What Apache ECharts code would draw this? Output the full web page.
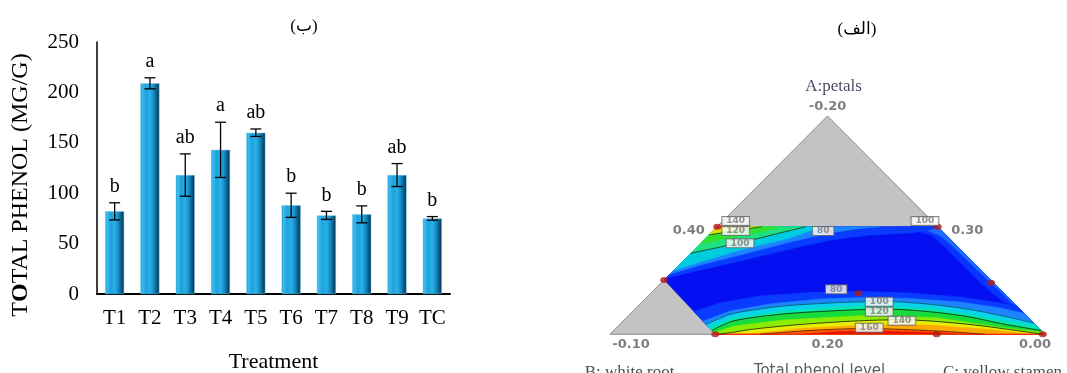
<!DOCTYPE html>
<html><head><meta charset="utf-8">
<script src="https://cdn.jsdelivr.net/npm/echarts@6/dist/echarts.min.js"></script>
<style>html,body{margin:0;padding:0;background:#fff}#c{width:1067px;height:373px}</style>
</head><body><div id="c"></div>
<script>
// ---------- Left panel: bar chart ----------
const categories = ['T1','T2','T3','T4','T5','T6','T7','T8','T9','TC'];
const phenolMeans = [82, 209, 118, 143, 160, 88, 78, 79, 118, 75];
const phenolErrors = [8.5, 5.5, 21, 27.4, 3.7, 12, 4, 8.4, 11.4, 1.8];
const groupLetters = ['b','a','ab','a','ab','b','b','b','ab','b'];

// ---------- Right panel: mixture contour plot (plot frame 0..100 x 0..100) ----------
const ternaryTriangle = [[0,0],[100,0],[50,100]];
const feasibleRegion = [[24.65,49.3],[75.35,49.3],[100,0],[24.2,0],[12.45,24.9]];
const regionTopLeft = [24.65,49.3];
const regionTopRight = [75.35,49.3];
const regionBottom = [[100,0],[24.2,0]];

const bowlLevels = [85, 92, 100, 110, 120, 130, 140, 150, 160, 170];
const bowlContours = [
  [[19.25,10.5],[25.29,14.34],[34.48,17.54],[45.98,19.15],[57.47,19.61],[68.97,18.92],[80.46,17.09],[89.66,14.34],[93.5,13.0]],
  [[21.37,6.0],[27.59,10.67],[36.78,13.88],[48.28,16.17],[58.85,16.86],[68.97,16.40],[80.46,14.80],[89.66,12.05],[95.25,9.5]],
  [[22.08,4.5],[24.37,6.55],[28.28,9.53],[34.48,11.59],[39.77,12.96],[50.57,14.34],[58.85,14.93],[66.67,14.80],[75.17,13.42],[82.76,11.36],[90.34,8.38],[97.41,5.18]],
  [[22.83,2.9],[28.28,7.47],[39.77,10.67],[58.85,13.19],[75.17,11.59],[90.34,6.32],[98.2,3.6]],
  [[23.40,1.7],[28.28,6.09],[39.77,9.30],[50.57,10.67],[58.85,11.36],[66.67,11.36],[75.17,9.99],[82.76,7.92],[90.34,4.72],[99.13,1.74]],
  [[23.82,0.8],[28.74,3.8],[39.77,6.5],[58.85,8.6],[75.17,7.6],[90.34,3.0],[99.6,0.8]],
  [[24.83,0],[28.74,1.05],[32.18,2.20],[43.68,4.49],[58.85,6.32],[69.66,6.55],[82.76,4.49],[94.25,1.51],[99.54,0]],
  [[31.03,0],[43.68,2.66],[58.85,4.26],[73.56,4.26],[87.36,2.20],[96.55,0]],
  [[34.48,0],[45.98,1.74],[58.85,2.66],[75.17,1.51],[86.21,0]],
  [[43.68,0],[52.87,1.28],[62.07,1.51],[73.56,0.82],[80.46,0]]
];

const cornerLevels = [85, 92, 95, 100, 110, 120, 130, 140, 150];
const cornerContours = [
  [[12.9,25.79],[20.69,29.45],[29.89,33.58],[41.38,39.07],[50.57,43.20],[59.77,45.49],[68.97,46.41],[73.56,47.78],[75.35,49.3]],
  [[13.81,27.62],[20.69,31.74],[29.89,36.33],[41.38,42.28],[50.57,46.41],[57.47,48.47],[62.07,49.3]],
  [[14.72,29.45],[20.69,33.12],[29.89,38.62],[41.38,44.11],[48.74,49.3]],
  [[18.56,37.11],[25.68,40.13],[29.89,42.0],[34.48,44.11],[40.92,47.32],[45.06,49.3]],
  [[20.7,41.4],[27.59,44.11],[34.48,46.86],[39.54,49.3]],
  [[22.75,45.49],[27.59,47.09],[32.18,48.47],[34.94,49.3]],
  [[23.4,46.8],[26.5,48.6],[28.5,49.3]],
  [[23.95,47.9],[25.8,49.3]],
  [[24.35,48.7],[24.95,49.3]]
];

const edgeLevels = [85, 92];
const edgeContours = [
  [[66.67,49.3],[74.0,45.5],[77.0,40.0],[80.5,33.0],[84.0,26.0],[87.5,19.5],[90.5,15.0],[93.5,13.0]],
  [[70.8,49.3],[76.0,45.0],[79.0,40.0],[82.6,33.0],[86.0,26.5],[89.5,20.0],[92.0,15.0],[95.25,9.5]]
];

const designPoints = [[24.65,49.3],[75.35,49.3],[12.45,24.9],[50.2,47.3],[57.1,18.8],[87.6,23.6],[24.2,0],[75.1,0],[99.5,0]];
const contourLabelText = ['140','120','100','80','100','80','100','120','140','160'];
const contourLabelPos = [[28.9,51.9],[28.9,47.3],[29.9,41.7],[49.0,47.3],[72.4,51.9],[52.0,20.6],[61.9,14.9],[61.9,10.35],[67.1,6.2],[59.6,3.0]];
const ternaryTickText = ['-0.20','0.40','0.30','-0.10','0.20','0.00'];
const ternaryTickPos = [[50,100],[24.65,49.3],[75.35,49.3],[0,0],[50,0],[100,0]];
const ternaryTitleText = ['A:petals','B: white root','Total phenol level','C: yellow stamen'];
const ternaryTitlePos = [[50,100],[0,0],[50,0],[100,0]];

// ---------- styling ----------
const levelColors = {85:'#0a3cff',92:'#1d84ff',100:'#08d2ec',110:'#04e6aa',120:'#18dc3a',130:'#8aec00',140:'#e6ee00',150:'#ffaa00',160:'#ff5c00',170:'#e81400'};
const edgeColors = {85:'#0a34ff',92:'#1a6cff'};
const cornerColors = {85:'#0a3cff',92:'#1d84ff',95:'#00cce0',100:'#20e080',110:'#30e030',120:'#c4f000',130:'#ffd400',140:'#ff7a00',150:'#e82000'};

const layers = [];
layers.push({pts: ternaryTriangle, fill:'#c3c3c3', stroke:'#8c8c8c', lw:1});
layers.push({pts: feasibleRegion, fill:'#0410f2', stroke:'#3a3a8a', lw:0.6});
edgeContours.forEach((c,i)=>layers.push({pts: c.concat([regionTopRight]), fill: edgeColors[edgeLevels[i]]}));
cornerContours.forEach((c,i)=>layers.push({pts: c.concat([regionTopLeft]), fill: cornerColors[cornerLevels[i]]}));
bowlContours.forEach((c,i)=>layers.push({pts: c.concat(regionBottom), fill: levelColors[bowlLevels[i]]}));

const lines = [];
[[2,'#0b5566'],[4,'#0f2a1a'],[6,'#1a2a10'],[8,'#5a2400']].forEach(([k,col])=>lines.push({pts: bowlContours[k], color: col}));
[[3,'#123a2a'],[5,'#1a2a10']].forEach(([k,col])=>lines.push({pts: cornerContours[k], color: col}));

const barGradient = new echarts.graphic.LinearGradient(0,0,1,0,[
  {offset:0,color:'#0f86c4'},{offset:0.08,color:'#3cbcee'},{offset:0.3,color:'#1ca2dc'},
  {offset:0.5,color:'#2cb0e8'},{offset:0.68,color:'#1790ca'},{offset:0.85,color:'#0b5d88'},{offset:1,color:'#052c44'}]);

const serif = '"Liberation Serif", "Times New Roman", serif';
const tickStyles = [
  {position:'top', distance:2, offset:[0,0]},
  {position:'left', distance:12, offset:[0,4]},
  {position:'right', distance:13, offset:[0,4]},
  {position:'bottom', distance:3, offset:[21,0]},
  {position:'bottom', distance:3, offset:[0,0]},
  {position:'bottom', distance:3, offset:[-10,0]}
];
const titleStyles = [
  {position:'top', distance:20, offset:[6,0], fontFamily:serif, fontSize:17, color:'#1a1a3a'},
  {position:'bottom', distance:29, offset:[19.5,0], fontFamily:serif, fontSize:17, color:'#222'},
  {position:'bottom', distance:29, offset:[-8,0], fontFamily:'DejaVu Sans', fontSize:15, color:'#333'},
  {position:'bottom', distance:29, offset:[-42.5,0], fontFamily:serif, fontSize:17, color:'#222'}
];

const textData = [];
ternaryTickText.forEach((t,i)=>textData.push({name:t, value:ternaryTickPos[i],
  label:Object.assign({fontFamily:'DejaVu Sans', fontWeight:'bold', fontSize:13, color:'#5c5c5c'}, tickStyles[i])}));
ternaryTitleText.forEach((t,i)=>textData.push({name:t, value:ternaryTitlePos[i], label:titleStyles[i]}));

const chart = echarts.init(document.getElementById('c'));
chart.setOption({
  animation:false,
  backgroundColor:'#fff',
  title:[
    {text:'(ب)', left:299, top:13, textAlign:'center', textStyle:{fontFamily:serif+', "DejaVu Sans"', fontSize:17, fontWeight:'normal', color:'#000'}},
    {text:'(الف)', left:852, top:16, textAlign:'center', textStyle:{fontFamily:serif+', "DejaVu Sans"', fontSize:17, fontWeight:'normal', color:'#000'}}
  ],
  grid:[
    {left:97, right:617, top:42, bottom:79, outerBoundsMode:'none', containLabel:false},
    {left:610, top:116, width:435, height:218.3, outerBoundsMode:'none', containLabel:false}
  ],
  xAxis:[
    {type:'category', gridIndex:0, data:categories,
     axisLine:{lineStyle:{color:'#000', width:2}}, axisTick:{show:false},
     axisLabel:{fontFamily:serif, fontSize:21, color:'#000', margin:14},
     name:'Treatment', nameLocation:'middle', nameGap:57,
     nameTextStyle:{fontFamily:serif, fontSize:22, color:'#000'}},
    {type:'value', gridIndex:1, min:0, max:100, show:false}
  ],
  yAxis:[
    {type:'value', gridIndex:0, min:0, max:250, interval:50,
     axisLine:{show:true, lineStyle:{color:'#000', width:1.5}}, axisTick:{show:false}, splitLine:{show:false},
     axisLabel:{fontFamily:serif, fontSize:21, color:'#000', margin:18},
     name:'T{b|O}TAL PHENOL (MG/G)', nameLocation:'middle', nameGap:64,
     nameTextStyle:{fontFamily:serif, fontSize:24, color:'#000', padding:[0,34,0,0],
       rich:{b:{fontFamily:serif, fontSize:24, fontWeight:'bold', color:'#000'}}}},
    {type:'value', gridIndex:1, min:0, max:100, show:false}
  ],
  series:[
    {type:'bar', xAxisIndex:0, yAxisIndex:0, data:phenolMeans, barWidth:19,
     itemStyle:{color:barGradient, borderColor:'#6ccbf0', borderWidth:0.5}},
    {type:'custom', xAxisIndex:0, yAxisIndex:0, z:5,
     data: categories.map((c,i)=>[i, phenolMeans[i], phenolErrors[i]]),
     encode:{x:0, y:1},
     renderItem:(params, api)=>{
       const i = api.value(0), m = api.value(1), e = api.value(2);
       const top = api.coord([i, m+e]), bot = api.coord([i, m-e]);
       const w = 5.5, st = {stroke:'#000', lineWidth:1.3};
       return {type:'group', children:[
         {type:'line', shape:{x1:top[0],y1:top[1],x2:bot[0],y2:bot[1]}, style:st},
         {type:'line', shape:{x1:top[0]-w,y1:top[1],x2:top[0]+w,y2:top[1]}, style:st},
         {type:'line', shape:{x1:bot[0]-w,y1:bot[1],x2:bot[0]+w,y2:bot[1]}, style:st},
         {type:'text', x:top[0], y:top[1]-6, style:{text:groupLetters[params.dataIndex], fill:'#000',
           font:'20px "Liberation Serif"', align:'center', verticalAlign:'bottom'}}
       ]};
     }},
    {type:'custom', xAxisIndex:1, yAxisIndex:1, z:2, clip:false,
     data: layers.map(()=>[50,50]),
     renderItem:(params, api)=>{
       const L = layers[params.dataIndex];
       return {type:'polygon', z2:params.dataIndex,
         shape:{points:L.pts.map(p=>api.coord(p))},
         style:{fill:L.fill, stroke:L.stroke||L.fill, lineWidth:L.lw||0.6}};
     }},
    {type:'custom', xAxisIndex:1, yAxisIndex:1, z:3, clip:false,
     data: lines.map(()=>[50,50]),
     renderItem:(params, api)=>{
       const L = lines[params.dataIndex];
       return {type:'polyline', shape:{points:L.pts.map(p=>api.coord(p)), smooth:0.3},
         style:{stroke:L.color, lineWidth:1, fill:null, opacity:0.85}};
     }},
    {type:'scatter', xAxisIndex:1, yAxisIndex:1, z:4, data:designPoints, symbolSize:[8,6],
     itemStyle:{color:'#b41818'}},
    {type:'scatter', xAxisIndex:1, yAxisIndex:1, z:5, symbolSize:1,
     data: contourLabelText.map((t,i)=>({name:t, value:contourLabelPos[i]})),
     itemStyle:{color:'rgba(0,0,0,0)'},
     label:{show:true, position:'inside', formatter:'{b}', fontFamily:'DejaVu Sans', fontWeight:'bold',
       fontSize:9, color:'#777', backgroundColor:'#fff', borderColor:'#666', borderWidth:1, padding:[0,4,-1,4]}},
    {type:'scatter', xAxisIndex:1, yAxisIndex:1, z:6, symbolSize:1, data:textData,
     itemStyle:{color:'rgba(0,0,0,0)'},
     label:{show:true, formatter:'{b}'}}
  ]
});
</script></body></html>
